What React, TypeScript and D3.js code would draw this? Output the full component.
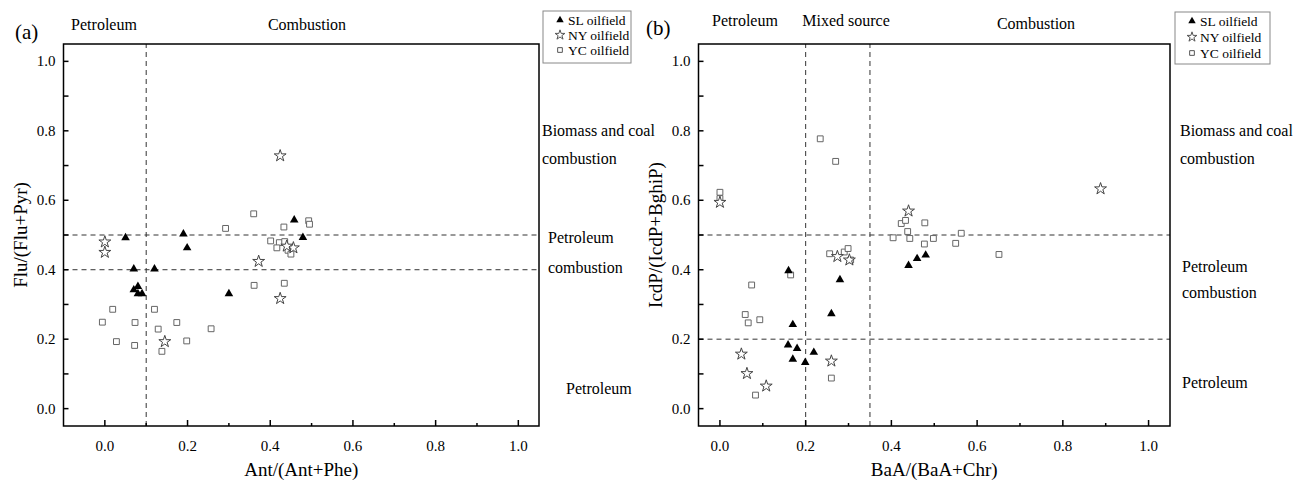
import React from "react";
import * as d3 from "d3";

// panel (a): Ant/(Ant+Phe) vs Flu/(Flu+Pyr)
const slA = [
  [0.05, 0.492], [0.19, 0.503], [0.199, 0.463], [0.07, 0.402], [0.12, 0.402],
  [0.07, 0.342], [0.08, 0.352], [0.08, 0.331], [0.09, 0.331], [0.3, 0.331],
  [0.458, 0.543], [0.479, 0.493],
];
const nyA = [
  [0.424, 0.728], [0.0, 0.48], [0.0, 0.45], [0.372, 0.424], [0.424, 0.317],
  [0.145, 0.193], [0.456, 0.463], [0.44, 0.468],
];
const ycA = [
  [0.36, 0.561], [0.292, 0.519], [0.433, 0.523], [0.493, 0.541], [0.495, 0.531],
  [0.401, 0.483], [0.422, 0.478], [0.435, 0.481], [0.416, 0.463], [0.443, 0.456],
  [0.45, 0.445], [0.361, 0.355], [0.434, 0.361], [0.019, 0.286], [0.12, 0.286],
  [-0.006, 0.249], [0.073, 0.248], [0.174, 0.248], [0.129, 0.229], [0.257, 0.23],
  [0.028, 0.193], [0.198, 0.195], [0.072, 0.182], [0.138, 0.165],
];

// panel (b): BaA/(BaA+Chr) vs IcdP/(IcdP+BghiP)
const slB = [
  [0.16, 0.397], [0.28, 0.371], [0.26, 0.273], [0.17, 0.242], [0.159, 0.183],
  [0.18, 0.173], [0.17, 0.142], [0.199, 0.133], [0.219, 0.162],
  [0.44, 0.412], [0.46, 0.432], [0.48, 0.442],
];
const nyB = [
  [0.0, 0.594], [0.274, 0.438], [0.302, 0.428], [0.05, 0.157], [0.063, 0.101],
  [0.108, 0.065], [0.26, 0.137], [0.44, 0.569], [0.888, 0.633],
];
const ycB = [
  [0.234, 0.777], [0.27, 0.712], [0.0, 0.623], [0.0, 0.605], [0.256, 0.446],
  [0.29, 0.451], [0.299, 0.461], [0.305, 0.428], [0.165, 0.385], [0.074, 0.356],
  [0.059, 0.271], [0.066, 0.247], [0.093, 0.256], [0.26, 0.088], [0.083, 0.039],
  [0.423, 0.533], [0.433, 0.542], [0.478, 0.535], [0.438, 0.51], [0.404, 0.492],
  [0.443, 0.49], [0.498, 0.49], [0.563, 0.505], [0.477, 0.474], [0.55, 0.476],
  [0.651, 0.444],
];

const xTicks = [0, 0.2, 0.4, 0.6, 0.8, 1.0];
const minorTicks = [0.1, 0.3, 0.5, 0.7, 0.9];
const yTicks = [0, 0.2, 0.4, 0.6, 0.8, 1.0];
const legendNames = ["SL oilfield", "NY oilfield", "YC oilfield"];

const font = "'Liberation Serif', 'Times New Roman', serif";

const triPath = d3.symbol(d3.symbolTriangle, 32)();
const starPath = d3.symbol(d3.symbolStar, 44)();
const sqPath = d3.symbol(d3.symbolSquare, 34)();

function Marks({ pts, x, y, kind }) {
  return (
    <g>
      {pts.map((p, i) => (
        <path
          key={i}
          transform={`translate(${x(p[0])},${y(p[1])})`}
          d={kind === "tri" ? triPath : kind === "star" ? starPath : sqPath}
          fill={kind === "tri" ? "#000" : "white"}
          stroke={kind === "tri" ? "none" : kind === "star" ? "#444" : "#666"}
          strokeWidth={1}
        />
      ))}
    </g>
  );
}

function Panel({ x, y, vLines, hLines, xTitle, yTitle, yTitleX, data }) {
  const [x0, x1] = x.range();
  const [y0, y1] = y.range();
  return (
    <g fontFamily={font}>
      {vLines.map((v) => (
        <line key={v} x1={x(v)} x2={x(v)} y1={y0} y2={y1} stroke="#333" strokeDasharray="5,4" />
      ))}
      {hLines.map((v) => (
        <line key={v} x1={x0} x2={x1} y1={y(v)} y2={y(v)} stroke="#333" strokeDasharray="5,4" />
      ))}
      <Marks pts={data[2]} x={x} y={y} kind="sq" />
      <Marks pts={data[1]} x={x} y={y} kind="star" />
      <Marks pts={data[0]} x={x} y={y} kind="tri" />
      <rect x={x0} y={y1} width={x1 - x0} height={y0 - y1} fill="none" stroke="#000" strokeWidth={1.5} />
      {xTicks.map((t) => (
        <g key={t}>
          <line x1={x(t)} x2={x(t)} y1={y0} y2={y0 - 6} stroke="#000" strokeWidth={1.5} />
          <text x={x(t)} y={y0 + 25} textAnchor="middle" fontSize={15}>
            {t.toFixed(1)}
          </text>
        </g>
      ))}
      {minorTicks.map((t) => (
        <line key={t} x1={x(t)} x2={x(t)} y1={y0} y2={y0 - 3} stroke="#000" strokeWidth={1.5} />
      ))}
      {d3.range(0, 11).map((i) => (
        <line key={i} x1={x0} x2={x0 + 5} y1={y(i / 10)} y2={y(i / 10)} stroke="#000" strokeWidth={1.5} />
      ))}
      {yTicks.map((t) => (
        <text key={t} x={x0 - 8} y={y(t) + 5} textAnchor="end" fontSize={15}>
          {t.toFixed(1)}
        </text>
      ))}
      <text x={(x0 + x1) / 2} y={476} textAnchor="middle" fontSize={19}>
        {xTitle}
      </text>
      <text
        transform={`translate(${yTitleX},${(y0 + y1) / 2}) rotate(-90)`}
        textAnchor="middle"
        fontSize={19}
      >
        {yTitle}
      </text>
    </g>
  );
}

function Legend({ left, top, w, h, rowGap }) {
  return (
    <g fontFamily={font}>
      <rect x={left} y={top} width={w} height={h} fill="white" stroke="#888" />
      {legendNames.map((n, i) => {
        const cy = top + 9 + i * rowGap;
        const d = i === 0 ? d3.symbol(d3.symbolTriangle, 24)() : i === 1 ? d3.symbol(d3.symbolStar, 30)() : d3.symbol(d3.symbolSquare, 22)();
        return (
          <g key={n}>
            <path
              transform={`translate(${left + 17},${cy})`}
              d={d}
              fill={i === 0 ? "#000" : "white"}
              stroke={i === 0 ? "none" : "#555"}
            />
            <text x={left + 25} y={cy + 4.5} fontSize={13.5}>
              {n}
            </text>
          </g>
        );
      })}
    </g>
  );
}

export default function App() {
  const yScale = d3.scaleLinear().domain([-0.05, 1.05]).range([426, 44]);
  const xA = d3.scaleLinear().domain([-0.1, 1.05]).range([63.5, 539]);
  const xB = d3.scaleLinear().domain([-0.05, 1.05]).range([698.5, 1170]);

  return (
    <svg
      width={1295}
      height={481}
      style={{ position: "absolute", left: 0, top: 0, background: "white" }}
    >
      <Panel
        x={xA}
        y={yScale}
        vLines={[0.1]}
        hLines={[0.4, 0.5]}
        xTitle="Ant/(Ant+Phe)"
        yTitle="Flu/(Flu+Pyr)"
        yTitleX={27}
        data={[slA, nyA, ycA]}
      />
      <Panel
        x={xB}
        y={yScale}
        vLines={[0.2, 0.35]}
        hLines={[0.2, 0.5]}
        xTitle="BaA/(BaA+Chr)"
        yTitle="IcdP/(IcdP+BghiP)"
        yTitleX={662}
        data={[slB, nyB, ycB]}
      />
      <g fontFamily={font} fill="#000">
        <text x={15} y={39} fontSize={21}>(a)</text>
        <text x={104} y={30} fontSize={16} textAnchor="middle">Petroleum</text>
        <text x={307} y={30} fontSize={16} textAnchor="middle">Combustion</text>
        <text x={542} y={136} fontSize={16}>Biomass and coal</text>
        <text x={542} y={164} fontSize={16}>combustion</text>
        <text x={548} y={243} fontSize={16}>Petroleum</text>
        <text x={548} y={273} fontSize={16}>combustion</text>
        <text x={566} y={394} fontSize={16}>Petroleum</text>

        <text x={646} y={35} fontSize={21}>(b)</text>
        <text x={745} y={26} fontSize={16} textAnchor="middle">Petroleum</text>
        <text x={846} y={26} fontSize={16} textAnchor="middle">Mixed source</text>
        <text x={1036} y={29} fontSize={16} textAnchor="middle">Combustion</text>
        <text x={1180} y={136} fontSize={16}>Biomass and coal</text>
        <text x={1180} y={164} fontSize={16}>combustion</text>
        <text x={1182} y={272} fontSize={16}>Petroleum</text>
        <text x={1182} y={298} fontSize={16}>combustion</text>
        <text x={1182} y={388} fontSize={16}>Petroleum</text>
      </g>
      <Legend left={543} top={11} w={88} h={52} rowGap={15} />
      <Legend left={1175} top={12} w={95} h={52} rowGap={16} />
    </svg>
  );
}
